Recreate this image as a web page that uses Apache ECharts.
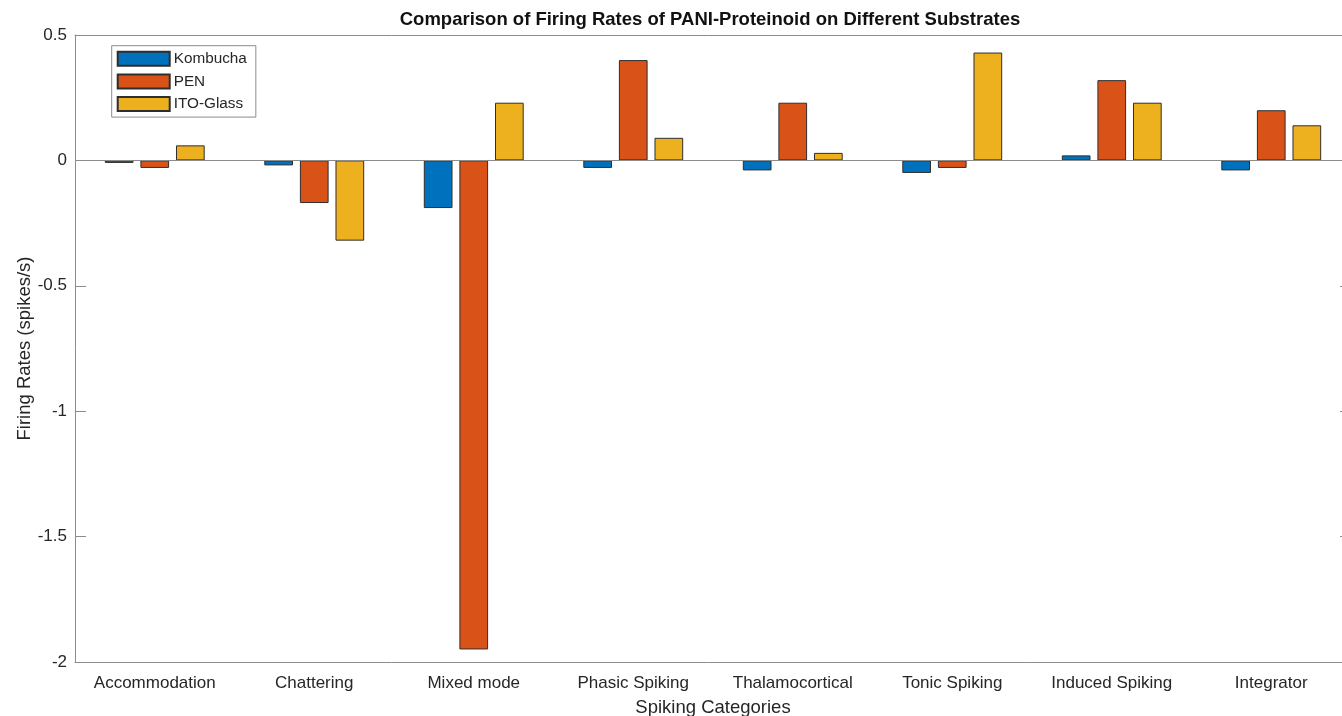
<!DOCTYPE html>
<html>
<head>
<meta charset="utf-8">
<title>Firing Rates of PANI-Proteinoid</title>
<script src="https://cdn.jsdelivr.net/npm/echarts@6/dist/echarts.min.js"></script>
<style>
  html, body { margin: 0; padding: 0; background: #ffffff; }
  #chart { width: 1342px; height: 716px; }
</style>
</head>
<body>
<div id="chart"></div>
<script>
// Spiking categories along the x axis
const categories = ['Accommodation', 'Chattering', 'Mixed mode', 'Phasic Spiking',
  'Thalamocortical', 'Tonic Spiking', 'Induced Spiking', 'Integrator'];

// Firing-rate change (spikes/s) per substrate
const kombucha = [-0.01, -0.02, -0.19, -0.03, -0.04, -0.05, 0.02, -0.04];
const pen      = [-0.03, -0.17, -1.95, 0.40, 0.23, -0.03, 0.32, 0.20];
const itoGlass = [0.06, -0.32, 0.23, 0.09, 0.03, 0.43, 0.23, 0.14];

const seriesNames = ['Kombucha', 'PEN', 'ITO-Glass'];
const seriesData = [kombucha, pen, itoGlass];
const seriesColors = ['#0072BD', '#D95319', '#EDB120'];

const FONT = "'Liberation Sans', Arial, Helvetica, sans-serif";
const TEXT = '#262626';
const AXIS = '#8c8c8c';

const chart = echarts.init(document.getElementById('chart'), null, { renderer: 'canvas' });

const series = seriesData.map((data, i) => {
  const s = {
    name: seriesNames[i],
    type: 'bar',
    xAxisIndex: 0,
    yAxisIndex: 0,
    data: data,
    barWidth: 28.7,
    barGap: '24%',
    itemStyle: { color: seriesColors[i], borderColor: '#2e2e2e', borderWidth: 1 },
    emphasis: { disabled: true },
    animation: false
  };
  if (i === 0) {
    // bar baseline at zero
    s.markLine = {
      silent: true,
      symbol: ['none', 'none'],
      label: { show: false },
      lineStyle: { color: AXIS, type: 'solid', width: 1 },
      data: [{ yAxis: 0 }],
      animation: false
    };
  }
  return s;
});

const option = {
  backgroundColor: '#ffffff',
  animation: false,
  textStyle: { fontFamily: FONT },
  title: {
    text: 'Comparison of Firing Rates of PANI-Proteinoid on Different Substrates',
    left: 710,
    top: 10,
    padding: 0,
    textAlign: 'center',
    textStyle: { fontFamily: FONT, fontSize: 18.5, fontWeight: 'bold', color: '#111111' }
  },
  legend: {
    orient: 'vertical',
    left: 111.7,
    top: 45.7,
    padding: [5, 9, 5, 5],
    itemWidth: 52,
    itemHeight: 14,
    itemGap: 6.7,
    icon: 'rect',
    borderColor: '#8c8c8c',
    borderWidth: 1,
    backgroundColor: '#ffffff',
    selectedMode: false,
    textStyle: { fontFamily: FONT, fontSize: 15.3, color: TEXT, padding: [0, 0, 0, -1] },
    data: seriesNames
  },
  grid: { left: 75, top: 35, width: 1276, height: 627, containLabel: false, outerBoundsMode: 'none' },
  xAxis: [
    {
      type: 'category',
      position: 'bottom',
      data: categories,
      axisLine: { onZero: false, lineStyle: { color: AXIS, width: 1 } },
      axisTick: { inside: true, length: 11, alignWithLabel: true, lineStyle: { color: AXIS } },
      axisLabel: { fontFamily: FONT, fontSize: 17, color: TEXT, margin: 13, interval: 0 },
      splitLine: { show: false },
      name: 'Spiking Categories',
      nameLocation: 'middle',
      nameGap: 36,
      nameMoveOverlap: false,
      nameTextStyle: { fontFamily: FONT, fontSize: 18.5, color: TEXT }
    },
    {
      type: 'category',
      position: 'top',
      data: categories,
      axisLine: { onZero: false, lineStyle: { color: AXIS, width: 1 } },
      axisTick: { inside: true, length: 11, alignWithLabel: true, lineStyle: { color: AXIS } },
      axisLabel: { show: false },
      splitLine: { show: false }
    }
  ],
  yAxis: [
    {
      type: 'value',
      position: 'left',
      min: -2,
      max: 0.5,
      interval: 0.5,
      axisLine: { show: true, onZero: false, lineStyle: { color: AXIS, width: 1 } },
      axisTick: { show: true, inside: true, length: 11, lineStyle: { color: AXIS } },
      axisLabel: { fontFamily: FONT, fontSize: 17, color: TEXT, margin: 8 },
      splitLine: { show: false },
      name: 'Firing Rates (spikes/s)',
      nameLocation: 'middle',
      nameRotate: 90,
      nameGap: 41,
      nameMoveOverlap: false,
      nameTextStyle: { fontFamily: FONT, fontSize: 18.5, color: TEXT }
    },
    {
      type: 'value',
      position: 'right',
      min: -2,
      max: 0.5,
      interval: 0.5,
      axisLine: { show: true, onZero: false, lineStyle: { color: AXIS, width: 1 } },
      axisTick: { show: true, inside: true, length: 11, lineStyle: { color: AXIS } },
      axisLabel: { show: false },
      splitLine: { show: false }
    }
  ],
  series: series
};

chart.setOption(option);
</script>
</body>
</html>
